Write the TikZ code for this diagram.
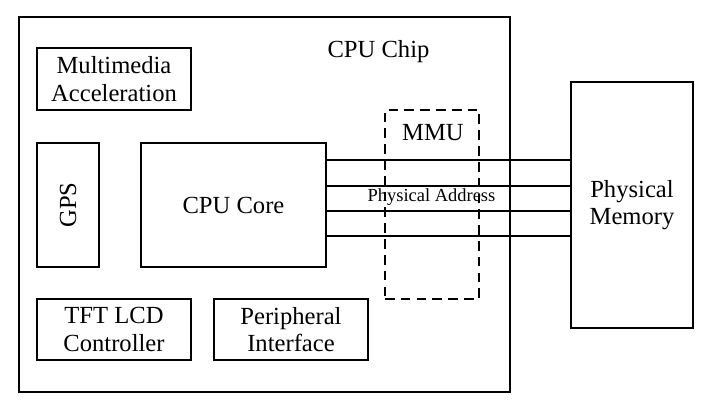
\documentclass[tikz,border=0pt]{standalone}
\usepackage{fontspec}
\setmainfont{Liberation Serif}
\begin{document}
\begin{tikzpicture}[
    caja/.style={draw, line width=0.8pt, align=center, inner sep=0pt, font=\fontsize{14}{15.5}\selectfont},
    texto/.style={inner sep=0pt, font=\fontsize{14}{15.5}\selectfont},
    bus/.style={line width=0.8pt},
    ]
    \useasboundingbox (0,0) rectangle (14.08,8.08);
    %chip
    \node[caja, minimum width=9.82cm, minimum height=7.5cm] at (5.29,3.99) (chip) {};
    \node[texto] at (7.57,7.04) (chiptxt) {CPU Chip};
    %bloques
    \node[caja, minimum width=3.08cm, minimum height=1.24cm] at (2.28,6.5) (multimedia) {Multimedia\\Acceleration};
    \node[caja, rotate=90, minimum width=2.48cm, minimum height=1.24cm] at (1.36,3.98) (gps) {GPS};
    \node[caja, minimum width=3.7cm, minimum height=2.48cm] at (4.67,3.98) (core) {CPU Core};
    \node[caja, minimum width=3.08cm, minimum height=1.22cm] at (2.28,1.49) (tft) {TFT LCD\\Controller};
    \node[caja, minimum width=3.08cm, minimum height=1.22cm] at (5.82,1.49) (periferico) {Peripheral\\Interface};
    %mmu
    \node[draw, dash pattern=on 5.5pt off 3.5pt, line width=0.8pt, minimum width=1.88cm, minimum height=3.78cm] at (8.64,3.99) (mmu) {};
    \node[texto] at (8.66,5.42) (mmutxt) {MMU};
    %memoria
    \node[caja, minimum width=2.44cm, minimum height=4.92cm] at (12.64,3.98) (memoria) {Physical\\Memory};
    %bus
    \foreach \d in {0.9, 0.38, -0.12, -0.62}
        \draw [bus] ([yshift=\d cm]core.east) -- ([yshift=\d cm]core.east -| memoria.west);
    \node[inner sep=0pt, font=\fontsize{10.5}{12}\selectfont] at (8.63,4.14) (direccion) {Physical Address};
\end{tikzpicture}
\end{document}
